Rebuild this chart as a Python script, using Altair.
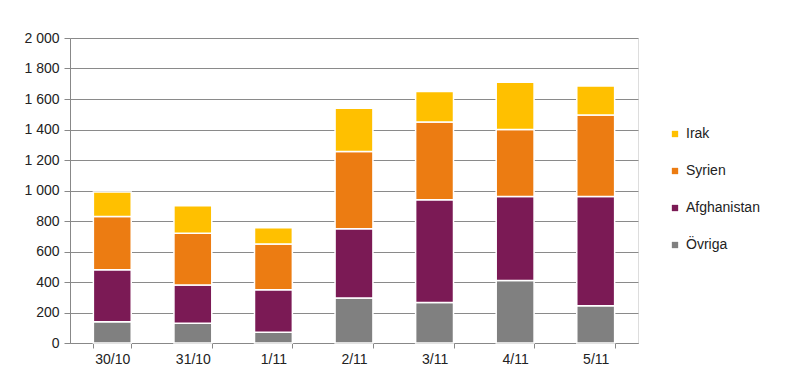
import altair as alt
import pandas as pd

dates = ["30/10", "31/10", "1/11", "2/11", "3/11", "4/11", "5/11"]
ovriga = [140, 130, 70, 295, 265, 410, 245]
afghanistan = [340, 250, 280, 455, 675, 550, 715]
syrien = [350, 340, 300, 505, 510, 440, 535]
irak = [160, 180, 105, 285, 200, 310, 190]

series = ["Irak", "Syrien", "Afghanistan", "Övriga"]
colors = ["#FFC000", "#EC7C12", "#7B1A55", "#808080"]
y_ticks = [0, 200, 400, 600, 800, 1000, 1200, 1400, 1600, 1800, 2000]

rows = []
stack_data = [("Övriga", ovriga), ("Afghanistan", afghanistan), ("Syrien", syrien), ("Irak", irak)]
for k, (name, vals) in enumerate(stack_data):
    for d, v in zip(dates, vals):
        rows.append({"date": d, "series": name, "value": v, "ord": k})
df = pd.DataFrame(rows)

font = "Liberation Sans"

chart = alt.Chart(df).mark_bar(stroke="white", strokeWidth=1.5).encode(
    x=alt.X(
        "date:N", sort=dates, title=None,
        scale=alt.Scale(paddingInner=0.53, paddingOuter=0.29),
        axis=alt.Axis(labelAngle=0, tickBand="extent", domainColor="#888888",
                      tickColor="#888888", tickSize=5, labelFont=font,
                      labelFontSize=14, labelColor="#222222", labelPadding=4),
    ),
    y=alt.Y(
        "value:Q", stack="zero", title=None,
        scale=alt.Scale(domain=[0, 2000], nice=False),
        axis=alt.Axis(values=y_ticks,
                      labelExpr="replace(format(datum.value, ','), ',', ' ')",
                      gridColor="#8a8a8a", domainColor="#888888",
                      tickColor="#888888", tickSize=6, labelFont=font,
                      labelFontSize=14, labelColor="#222222", labelPadding=5),
    ),
    color=alt.Color(
        "series:N",
        scale=alt.Scale(domain=series, range=colors),
        legend=alt.Legend(title=None, orient="none", legendX=598, legendY=89,
                          symbolType="square", symbolSize=40, symbolStrokeWidth=0,
                          labelFont=font, labelFontSize=14, labelColor="#222222",
                          labelOffset=4, rowPadding=23, padding=0),
    ),
    order=alt.Order("ord:Q", sort="ascending"),
).properties(
    width=568, height=305,
    autosize=alt.AutoSizeParams(type="none"),
    padding={"left": 62, "top": 30, "right": 154, "bottom": 32},
).configure_view(stroke=None).configure(background="white")

chart.save("out.html", embed_options={"renderer": "svg", "actions": False})
